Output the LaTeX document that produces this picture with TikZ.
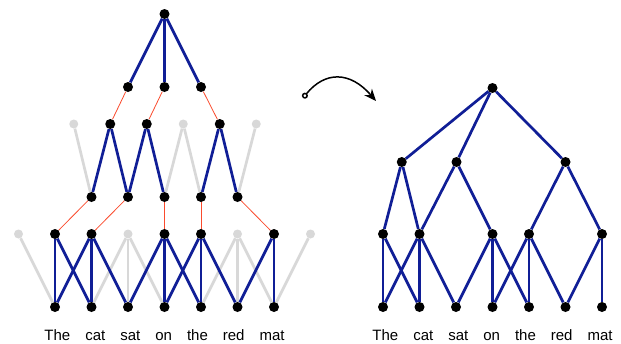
\documentclass[tikz,border=0pt]{standalone}
\usepackage{fontspec}
\setmainfont{Liberation Sans}
\usetikzlibrary{arrows.meta,backgrounds}

\definecolor{deepblue}{RGB}{16,30,150}
\definecolor{linkred}{RGB}{250,75,45}
\definecolor{fadegray}{RGB}{216,216,216}

\begin{document}
\begin{tikzpicture}[x=1pt, y=-1pt,
    dot/.style={circle, fill=black, inner sep=0pt, minimum size=10pt},
    ghost/.style={circle, fill=fadegray, inner sep=0pt, minimum size=9pt},
    wire/.style={deepblue, line width=2.7pt},
    faded/.style={fadegray, line width=2.7pt},
    pick/.style={linkred, line width=0.8pt},
    words/.style={anchor=base, inner sep=0pt, font=\fontsize{15}{18}\selectfont}]

\useasboundingbox (0,0) rectangle (621,343);

% Left: the sentence nodes
\foreach \i in {0,...,6} {
    \node[dot] (lw\i) at (55+36.5*\i,307) {};
}

% first wide convolution, nine nodes, some thrown away
\foreach \i in {1,2,4,5,7} {
    \node[dot] (la\i) at (18.5+36.5*\i,234) {};
}
\foreach \i in {0,3,6,8} {
    \node[ghost] (la\i) at (18.5+36.5*\i,234) {};
}

% k-max pooling keeps five
\foreach \i in {0,...,4} {
    \node[dot] (lb\i) at (91.5+36.5*\i,197) {};
}

% second convolution, six nodes
\foreach \i in {1,2,4} {
    \node[dot] (lc\i) at (73.75+36.5*\i,124) {};
}
\foreach \i in {0,3,5} {
    \node[ghost] (lc\i) at (73.75+36.5*\i,124) {};
}

% pooling keeps three, and the top
\foreach \i in {0,1,2} {
    \node[dot] (ld\i) at (128+36.5*\i,87) {};
}
\node[dot] (lr) at (164.5,14) {};

\node[words] (lsent) at (164.5,340) {\spaceskip=15pt The cat sat on the red mat};

\begin{scope}[on background layer]
% grey edges go in first
\foreach \a/\b in {0/0,3/1,3/2,3/3,6/4,6/5,6/6,8/6} {
    \draw[faded] (la\a) -- (lw\b);
}
\foreach \a/\b in {0/0,3/2,3/3,5/4} {
    \draw[faded] (lc\a) -- (lb\b);
}

% kept edges
\foreach \a/\b in {1/0,1/1,2/0,2/1,2/2,4/2,4/3,4/4,5/3,5/4,5/5,7/5,7/6} {
    \draw[wire] (la\a) -- (lw\b);
}
\foreach \a/\b in {1/0,1/1,2/1,2/2,4/3,4/4} {
    \draw[wire] (lc\a) -- (lb\b);
}
\foreach \i in {0,1,2} {
    \draw[wire] (lr) -- (ld\i);
}

% the pooling links
\foreach \a/\b in {1/0,2/1,4/2,5/3,7/4} {
    \draw[pick] (la\a) -- (lb\b);
}
\foreach \a/\b in {1/0,2/1,4/2} {
    \draw[pick] (lc\a) -- (ld\b);
}
\end{scope}

% Right: the induced tree
\foreach \i in {0,...,6} {
    \node[dot] (rw\i) at (383+36.5*\i,307) {};
}
\foreach \n/\p in {0/0,1/1,2/3,3/4,4/6} {
    \node[dot] (ra\n) at (383+36.5*\p,234) {};
}
\node[dot] (rb0) at (401.75,162) {};
\node[dot] (rb1) at (456.5,162) {};
\node[dot] (rb2) at (565.5,162) {};
\node[dot] (rr) at (492.5,88) {};

\node[words] (rsent) at (492.5,340) {\spaceskip=15pt The cat sat on the red mat};

\begin{scope}[on background layer]
\foreach \a/\b in {0/0,0/1,1/0,1/1,1/2,2/2,2/3,2/4,3/3,3/4,3/5,4/5,4/6} {
    \draw[wire] (ra\a) -- (rw\b);
}
\foreach \a/\b in {0/0,0/1,1/1,1/2,2/3,2/4} {
    \draw[wire] (rb\a) -- (ra\b);
}
\foreach \i in {0,1,2} {
    \draw[wire] (rr) -- (rb\i);
}
\end{scope}

% the arrow between them
\coordinate (from) at (303,98);
\coordinate (to) at (376,101);
\draw[line width=1.5pt, {Circle[open,length=6pt,width=6pt]}-{Stealth[length=12pt,width=10pt]}]
    (from) .. controls (325,71) and (350,71) .. (to);

\end{tikzpicture}
\end{document}
